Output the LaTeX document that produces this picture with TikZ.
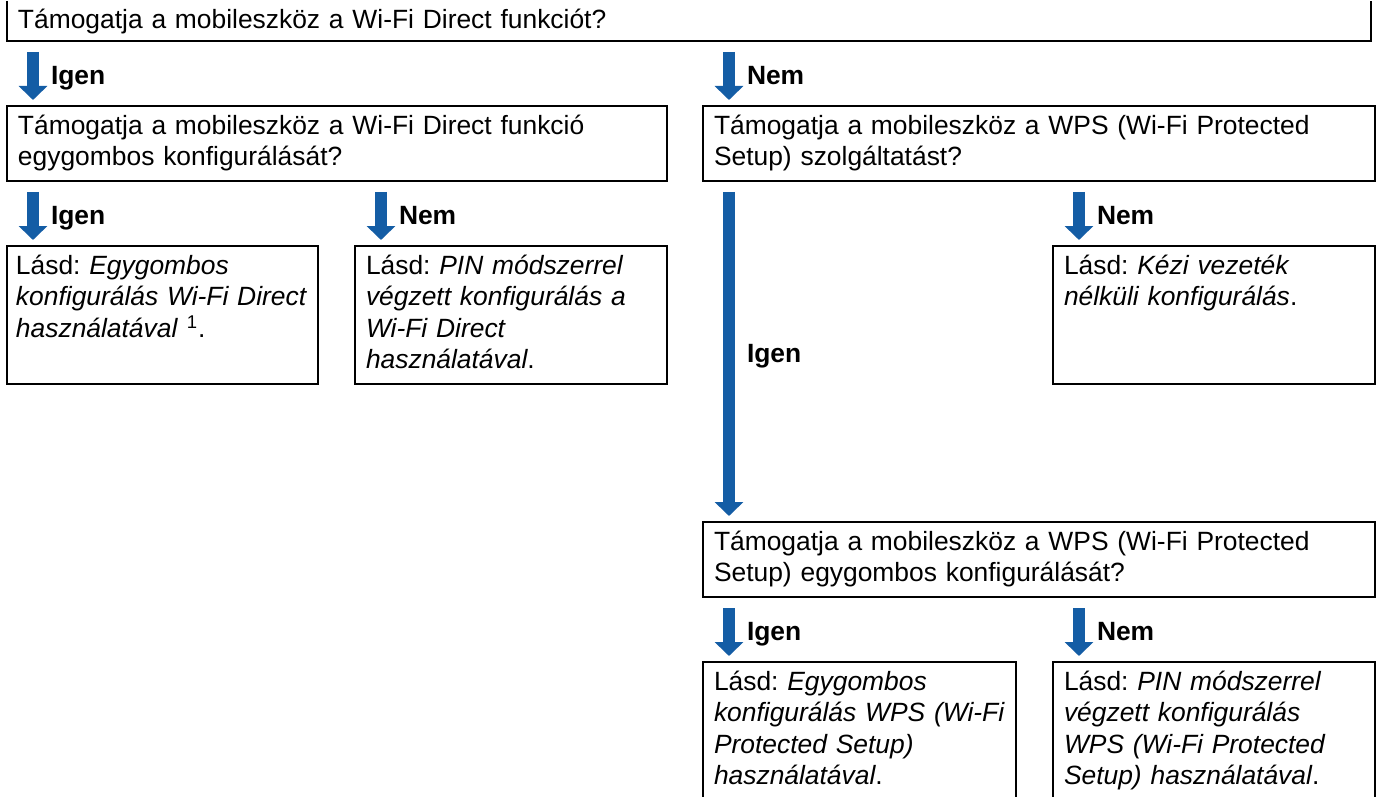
\documentclass[tikz,border=0pt]{standalone}
\usepackage{fontspec}
\setmainfont{Liberation Sans}
\usetikzlibrary{arrows.meta,positioning}
\definecolor{flowblue}{RGB}{20,93,165}
\frenchspacing
\hyphenpenalty=10000
\exhyphenpenalty=10000

\begin{document}
\begin{tikzpicture}[x=0.5pt,y=-0.5pt,font=\fontsize{13.2}{15.8}\selectfont,
 box/.style={draw,line width=1.2pt,outer sep=0pt,inner xsep=5.5pt,inner ysep=0pt,
   align=left,anchor=north west},
 topbox/.style={box,draw=none,anchor=south west,text depth=6pt},
 qbox/.style={box,text height=14pt,text depth=23.5pt},
 lbox/.style={box,text height=14pt,text depth=55pt},
 ar/.style={flowblue,line width=6pt,-{Triangle[width=14pt,length=7pt]},
   shorten <=5.5pt,shorten >=3pt},
 lbl/.style={text=black,font=\fontsize{13.2}{15.8}\selectfont\bfseries,right=6pt,yshift=-1pt,
   inner sep=0pt,text height=9.3pt,text depth=0pt}]
\path[use as bounding box,clip] (0,0) rectangle (1377,797);

% questions
\node[topbox,text width=671pt] (q0) at (7,41)
 {Támogatja a mobileszköz a Wi-Fi Direct funkciót?};
\draw[line width=1.2pt] ([yshift=20pt]q0.south west) -- (q0.south west)
 -- (q0.south east) -- ([yshift=20pt]q0.south east);
\node[qbox,text width=319pt] (qdirect) at (7,106)
 {Támogatja a mobileszköz a Wi-Fi Direct funkció\\ egygombos konfigurálását?};
\node[qbox,text width=325pt] (qwps) at (703,106)
 {Támogatja a mobileszköz a WPS (Wi-Fi Protected\\ Setup) szolgáltatást?};
\node[qbox,text width=325pt] (qpbc) at (703,522)
 {Támogatja a mobileszköz a WPS (Wi-Fi Protected\\ Setup) egygombos konfigurálását?};

% answers
\node[lbox,inner xsep=4.5pt,text width=146.5pt] (pbcdirect) at (7,246)
 {Lásd: \textit{Egygombos}\\ \textit{konfigurálás Wi-Fi Direct}\\ \textit{használatával} \textsuperscript{1}.};
\node[lbox,text width=145pt] (pindirect) at (355,246)
 {Lásd: \textit{PIN módszerrel}\\ \textit{végzett konfigurálás a}\\ \textit{Wi-Fi Direct}\\ \textit{használatával}.};
\node[lbox,text width=150pt] (manual) at (1053,246)
 {Lásd: \textit{Kézi vezeték}\\ \textit{nélküli konfigurálás}.};
\node[lbox,text width=145.5pt] (pbcwps) at (703,662)
 {Lásd: \textit{Egygombos}\\ \textit{konfigurálás WPS (Wi-Fi}\\ \textit{Protected Setup)}\\ \textit{használatával}.};
\node[lbox,text width=150pt] (pinwps) at (1053,662)
 {Lásd: \textit{PIN módszerrel}\\ \textit{végzett konfigurálás}\\ \textit{WPS (Wi-Fi Protected}\\ \textit{Setup) használatával}.};

% arrow ends
\coordinate (tdirect) at ([xshift=13pt]qdirect.north west);
\coordinate (twps) at ([xshift=13pt]qwps.north west);
\coordinate (tpbcdirect) at ([xshift=13pt]pbcdirect.north west);
\coordinate (tpindirect) at ([xshift=13pt]pindirect.north west);
\coordinate (tmanual) at ([xshift=13pt]manual.north west);
\coordinate (tpbc) at ([xshift=13pt]qpbc.north west);
\coordinate (tpbcwps) at ([xshift=13pt]pbcwps.north west);
\coordinate (tpinwps) at ([xshift=13pt]pinwps.north west);

\draw[ar] (q0.south -| tdirect) -- (tdirect) node[lbl,midway] (y1) {Igen};
\draw[ar] (q0.south -| twps) -- (twps) node[lbl,midway] (n1) {Nem};
\draw[ar] (qdirect.south -| tpbcdirect) -- (tpbcdirect) node[lbl,midway] (y2) {Igen};
\draw[ar] (qdirect.south -| tpindirect) -- (tpindirect) node[lbl,midway] (n2) {Nem};
\draw[ar] (qwps.south -| tpbc) -- (tpbc) node[lbl,midway] (y3) {Igen};
\draw[ar] (qwps.south -| tmanual) -- (tmanual) node[lbl,midway] (n3) {Nem};
\draw[ar] (qpbc.south -| tpbcwps) -- (tpbcwps) node[lbl,midway] (y4) {Igen};
\draw[ar] (qpbc.south -| tpinwps) -- (tpinwps) node[lbl,midway] (n4) {Nem};
\end{tikzpicture}
\end{document}
